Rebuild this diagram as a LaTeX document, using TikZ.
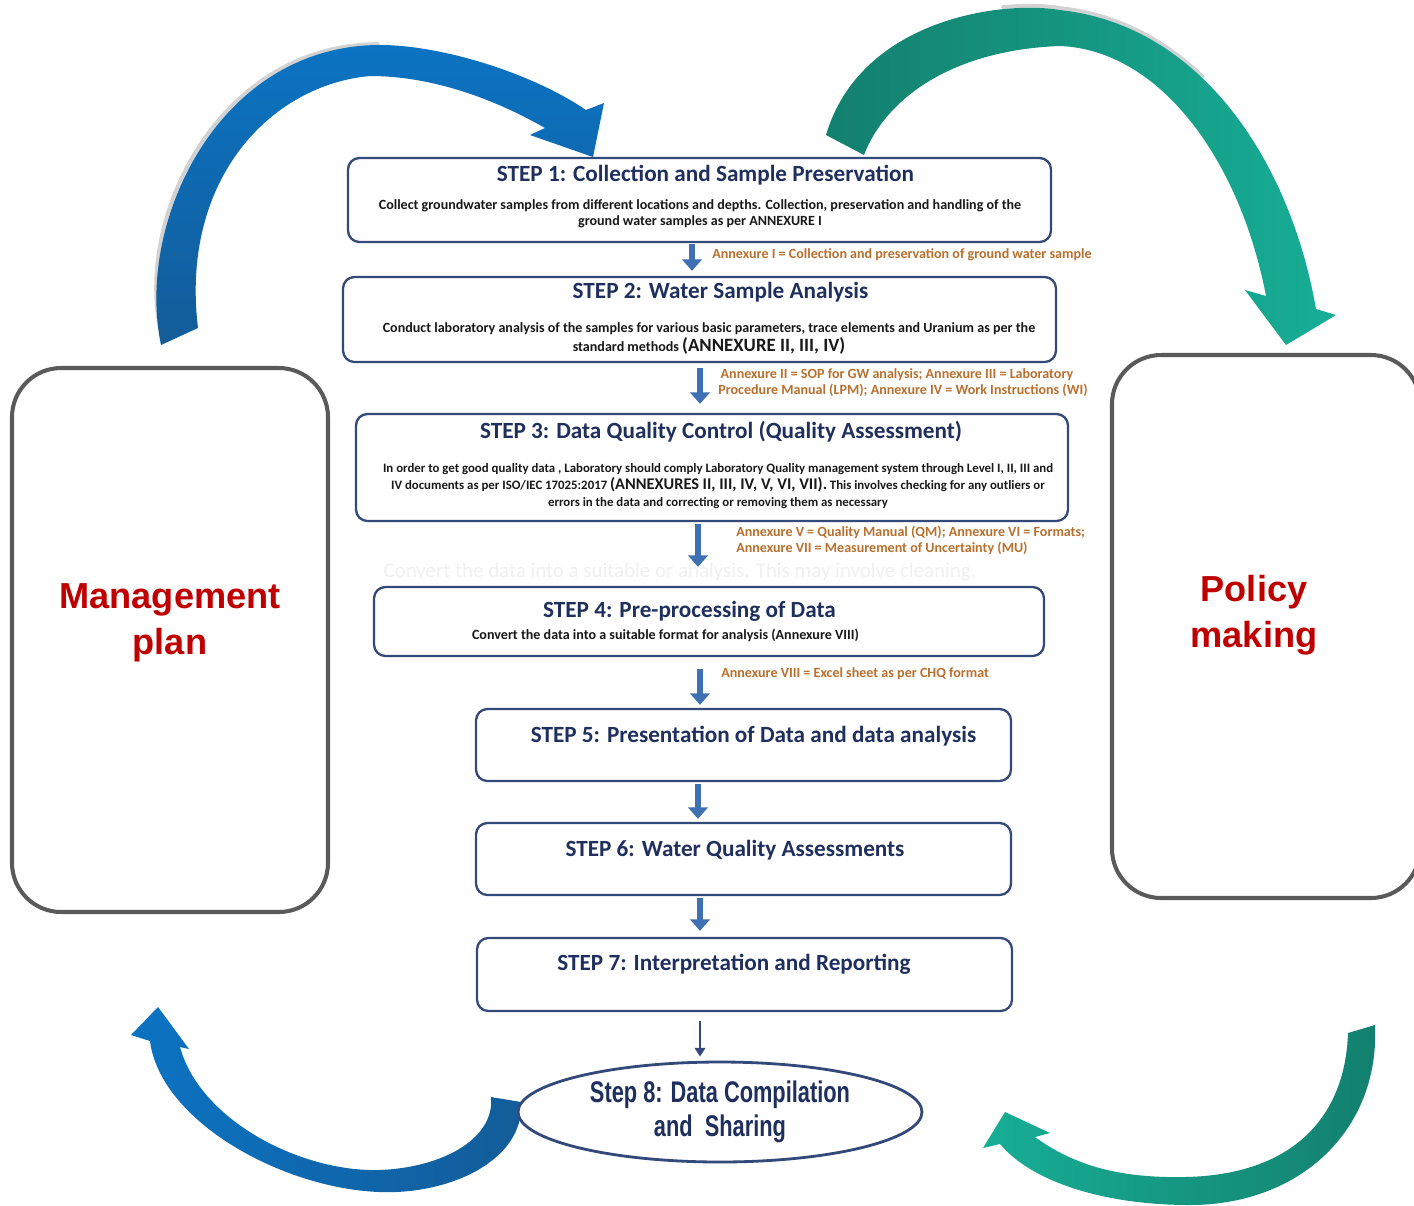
\documentclass[tikz,border=0pt]{standalone}
\usepackage{fontspec}
\setmainfont{Carlito}
\newfontfamily\arialfont{Liberation Sans}
\newfontfamily\narrowfont[FakeStretch=0.73]{Liberation Sans}
\usetikzlibrary{arrows.meta,shapes.geometric}

\definecolor{titlenavy}{HTML}{1F2F5E}
\definecolor{boxnavy}{HTML}{33497A}
\definecolor{flowblue}{HTML}{3F70B3}
\definecolor{notebrown}{HTML}{B8702E}
\definecolor{panelgray}{HTML}{5A5A5A}
\definecolor{plandred}{HTML}{C00000}
\definecolor{arcblue}{HTML}{0B73C2}
\definecolor{arcbluedark}{HTML}{135C99}
\definecolor{arcgreen}{HTML}{17AE96}
\definecolor{arcgreendark}{HTML}{13806E}

% one unit = one pixel of the layout
\def\pxu{0.02cm}

\begin{document}
\begin{tikzpicture}[
  x=\pxu, y=-\pxu,
  stepbox/.style={draw=boxnavy, line width=1.3pt, rounded corners=6.5pt, fill=white},
  steptitle/.style={font=\fontsize{13.2}{15}\selectfont\bfseries, text=titlenavy, inner sep=0pt},
  stepbody/.style={font=\fontsize{8}{9.1}\selectfont\bfseries, text=black!90, align=center, inner sep=0pt},
  annexnote/.style={font=\fontsize{8}{9.1}\selectfont\bfseries, text=notebrown, align=left, anchor=west, inner sep=0pt},
  flowarrow/.style={draw=flowblue, line width=3.8pt, -{Triangle[width=11pt,length=6.5pt]}},
  thinarrow/.style={draw=boxnavy, line width=1.6pt, -{Triangle[width=6pt,length=5pt]}},
  sidepanel/.style={draw=panelgray, line width=2.3pt, rounded corners=28pt},
  sidelabel/.style={font=\arialfont\fontsize{20.6}{26}\selectfont\bfseries, text=plandred, align=center, inner sep=0pt},
  rim/.style={draw=gray!35, line width=2.2pt, line cap=round}]
  \useasboundingbox (0,0) rectangle (1414,1205);
  \fill[white] (0,0) rectangle (1414,1205);

  % faint leftover line between step 3 and step 4
  \node[font=\fontsize{11.9}{13}\selectfont, text=gray!12, inner sep=0pt] (ghost) at (680,572)
    {Convert the data into a suitable or analysis. This may involve cleaning,};

% Big curved arrows
  % grey rims just outside the two upper arcs
  \begin{scope}[xshift=-0.9pt, yshift=0.5pt]
    \draw[rim] (163,335) .. controls (135,220) and (220,45) .. (380,45);
  \end{scope}
  \begin{scope}[yshift=1.1pt]
    \draw[rim] (1003,9.1) .. controls (1025,6.9) and (1045,7.5) .. (1060,10)
      .. controls (1116,16) and (1164,41.2) .. (1203,79);
  \end{scope}
  % top left, into step 1
  \shade[top color=arcblue, bottom color=arcbluedark]
    (161,345) .. controls (135,220) and (220,45) .. (380,45)
    .. controls (440,45) and (530,72) .. (586,110)
    -- (604,103) -- (593,157) -- (530,135) -- (545,128)
    .. controls (505,105) and (440,76) .. (370,76)
    .. controls (270,85) and (180,180) .. (198,328) -- cycle;
  % top right, down to the policy panel
  \shade[left color=arcgreendark, right color=arcgreen]
    (826,135) .. controls (860,20) and (1000,0) .. (1060,10)
    .. controls (1200,25) and (1290,160) .. (1316,309)
    -- (1336,315) -- (1286,345) -- (1245,290) -- (1266,296)
    .. controls (1240,160) and (1160,50) .. (1060,46)
    .. controls (950,50) and (885,100) .. (864,155) -- cycle;
  % bottom left, back up to the management panel
  \shade[left color=arcblue, right color=arcbluedark]
    (491,1097) -- (521,1102) .. controls (525,1160) and (450,1195) .. (379,1192)
    .. controls (280,1188) and (160,1120) .. (150,1041)
    -- (131,1035) -- (158,1007) -- (189,1049) -- (180,1047)
    .. controls (200,1120) and (300,1172) .. (379,1170)
    .. controls (440,1168) and (495,1140) .. (491,1097) -- cycle;
  % bottom right
  \shade[left color=arcgreen, right color=arcgreendark]
    (1348,1033) -- (1375,1025) .. controls (1380,1130) and (1300,1205) .. (1190,1205)
    .. controls (1100,1205) and (1030,1180) .. (1000,1144)
    -- (983,1148) -- (1005,1112) -- (1050,1133) -- (1035,1137)
    .. controls (1080,1170) and (1130,1178) .. (1185,1177)
    .. controls (1290,1175) and (1345,1120) .. (1348,1033) -- cycle;

% Side panels
  \node[sidepanel, minimum width=316*\pxu, minimum height=544*\pxu] (mgmt) at (170,640) {};
  \node[sidelabel] (mgmtlabel) at (170,623) {Management\\plan};
  \node[sidepanel, minimum width=308*\pxu, minimum height=543*\pxu] (policy) at (1266,626.5) {};
  \node[sidelabel] (policylabel) at (1254,615) {Policy\\making};

% Step boxes: name / x / y / width / height
  \foreach \n/\x/\y/\w/\h in {s1/699.5/200/703/84, s2/699.5/319.5/713/85,
    s3/712/467.5/712/107, s4/709/621.5/670/69, s5/743.5/745/535/72,
    s6/743.5/859/535/72, s7/744.5/974.5/535/73}
    \node[stepbox, minimum width=\w*\pxu, minimum height=\h*\pxu] (\n) at (\x,\y) {};

  \node[steptitle] (t1) at (705.5,175) {STEP 1: Collection and Sample Preservation};
  \node[stepbody] (b1) at (700,214) {Collect groundwater samples from different locations and depths. Collection, preservation and handling of the\\ground water samples as per ANNEXURE I};
  \node[steptitle] (t2) at (720.5,292) {STEP 2: Water Sample Analysis};
  \node[stepbody, font=\fontsize{8}{10.8}\selectfont\bfseries] (b2) at (709,338.5) {Conduct laboratory analysis of the samples for various basic parameters, trace elements and Uranium as per the\\standard methods {\fontsize{10.7}{10.8}\selectfont (ANNEXURE II, III, IV)}};
  \node[steptitle] (t3) at (721,432) {STEP 3: Data Quality Control (Quality Assessment)};
  \node[stepbody, font=\fontsize{7.3}{9.6}\selectfont\bfseries] (b3) at (718,486) {In order to get good quality data , Laboratory should comply Laboratory Quality management system through Level I, II, III and\\IV documents as per ISO/IEC 17025:2017 {\fontsize{9.3}{9.6}\selectfont (ANNEXURES II, III, IV, V, VI, VII).} This involves checking for any outliers or\\errors in the data and correcting or removing them as necessary};
  \node[steptitle] (t4) at (689.5,611) {STEP 4: Pre-processing of Data};
  \node[stepbody] (b4) at (665.5,635) {Convert the data into a suitable format for analysis (Annexure VIII)};
  \node[steptitle] (t5) at (753.5,736) {STEP 5: Presentation of Data and data analysis};
  \node[steptitle] (t6) at (735,850) {STEP 6: Water Quality Assessments};
  \node[steptitle] (t7) at (734,964) {STEP 7: Interpretation and Reporting};

  % annexure notes beside the arrows
  \node[annexnote] (n1) at (712,255) {Annexure I = Collection and preservation of ground water sample};
  \node[annexnote] (n2) at (718,383) {\,Annexure II = SOP for GW analysis; Annexure III = Laboratory\\Procedure Manual (LPM); Annexure IV = Work Instructions (WI)};
  \node[annexnote] (n3) at (736,540) {Annexure V = Quality Manual (QM); Annexure VI = Formats;\\Annexure VII = Measurement of Uncertainty (MU)};
  \node[annexnote] (n4) at (721,674) {Annexure VIII = Excel sheet as per CHQ format};

  \node[ellipse, draw=boxnavy, line width=1.6pt, fill=white, minimum width=404*\pxu,
    minimum height=100*\pxu, inner sep=0pt, align=center, text=titlenavy,
    font=\narrowfont\fontsize{17}{19.4}\selectfont\bfseries] (s8) at (720,1112)
    {Step 8: Data Compilation\\and~ Sharing};

% Arrows down the column: from / to / x / gap at start / gap at tip
  \foreach \a/\b/\ax/\sa/\sb in {s1/s2/692/1/5, s2/s3/700/5/9, s3/s4/698/2/19,
    s4/s5/700/12/3, s5/s6/698/2/3, s6/s7/700/2/6}
    \draw[flowarrow, shorten <=\sa*\pxu, shorten >=\sb*\pxu] (\a.south -| \ax,0) -- (\b.north -| \ax,0);
  \draw[thinarrow, shorten <=9*\pxu, shorten >=4*\pxu] (s7.south -| 700,0) -- (s8.north -| 700,0);
\end{tikzpicture}
\end{document}
